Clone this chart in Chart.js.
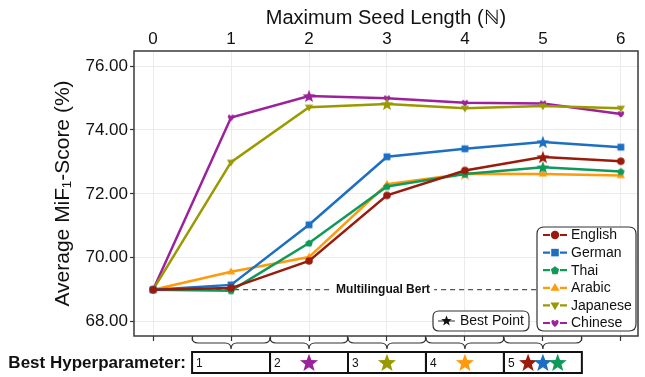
<!DOCTYPE html>
<html><head><meta charset="utf-8">
<script src="https://cdn.jsdelivr.net/npm/chart.js@4"></script>
<style>html,body{margin:0;padding:0;background:#fff;}</style>
</head><body>
<canvas id="c" width="645" height="377" style="width:645px;height:377px;display:block"></canvas>
<script>
// ---- data ----
const seedLengths = [0, 1, 2, 3, 4, 5, 6];
const xTickLabels = ['0', '1', '2', '3', '4', '5', '6'];
const yTickValues = [68, 70, 72, 74, 76];
const seriesNames = ['English', 'German', 'Thai', 'Arabic', 'Japanese', 'Chinese'];
const english  = [69.00, 69.05, 69.90, 71.95, 72.73, 73.15, 73.02];
const german   = [69.00, 69.15, 71.03, 73.16, 73.41, 73.62, 73.46];
const thai     = [69.00, 68.97, 70.46, 72.23, 72.62, 72.83, 72.70];
const arabic   = [69.00, 69.56, 70.02, 72.30, 72.63, 72.62, 72.57];
const japanese = [69.00, 72.99, 74.71, 74.81, 74.68, 74.75, 74.68];
const chinese  = [69.00, 74.39, 75.06, 74.99, 74.85, 74.83, 74.50];
const bestIndex = [5, 5, 5, 4, 3, 2];
const baselineValue = 69.0;
const baselineLabel = 'Multilingual Bert';
const hyperBoxes = [1, 2, 3, 4, 5];

const seriesValues = [english, german, thai, arabic, japanese, chinese];
const colors = ['#9a1b0c', '#1c6fc2', '#0f9a5c', '#ff9a0a', '#9a9a00', '#9b229b'];
const shapes = ['circle', 'square', 'pentagon', 'triangle', 'triangleDown', 'heart'];
const FONT = "'Liberation Sans', Arial, sans-serif";

function shapePath(ctx, shape, cx, cy, r) {
  ctx.beginPath();
  if (shape === 'circle') {
    ctx.arc(cx, cy, r, 0, Math.PI * 2);
  } else if (shape === 'square') {
    const s = r * 0.9;
    ctx.rect(cx - s, cy - s, 2 * s, 2 * s);
  } else if (shape === 'pentagon') {
    for (let i = 0; i < 5; i++) {
      const a = -Math.PI / 2 + i * 2 * Math.PI / 5;
      const px = cx + r * 1.05 * Math.cos(a), py = cy + r * 1.05 * Math.sin(a) + r * 0.1;
      i ? ctx.lineTo(px, py) : ctx.moveTo(px, py);
    }
    ctx.closePath();
  } else if (shape === 'triangle' || shape === 'triangleDown') {
    const d = shape === 'triangle' ? 1 : -1;
    const R = r * 1.15;
    ctx.moveTo(cx, cy - d * R);
    ctx.lineTo(cx + R * 0.95, cy + d * R * 0.6);
    ctx.lineTo(cx - R * 0.95, cy + d * R * 0.6);
    ctx.closePath();
  } else if (shape === 'heart') {
    ctx.moveTo(cx, cy + r * 0.95);
    ctx.bezierCurveTo(cx - r * 1.5, cy - r * 0.1, cx - r * 0.7, cy - r * 1.3, cx, cy - r * 0.35);
    ctx.bezierCurveTo(cx + r * 0.7, cy - r * 1.3, cx + r * 1.5, cy - r * 0.1, cx, cy + r * 0.95);
    ctx.closePath();
  } else if (shape === 'star') {
    for (let i = 0; i < 10; i++) {
      const a = -Math.PI / 2 + i * Math.PI / 5;
      const rr = i % 2 ? r * 0.42 : r;
      const px = cx + rr * Math.cos(a), py = cy + rr * Math.sin(a) + r * 0.08;
      i ? ctx.lineTo(px, py) : ctx.moveTo(px, py);
    }
    ctx.closePath();
  }
}
function drawShape(ctx, shape, cx, cy, r, color) {
  ctx.save();
  shapePath(ctx, shape, cx, cy, r);
  ctx.fillStyle = color;
  ctx.fill();
  ctx.restore();
}
function markerCanvas(shape, color, r) {
  const size = Math.ceil(2 * r + 6);
  const c = document.createElement('canvas');
  c.width = size; c.height = size;
  drawShape(c.getContext('2d'), shape, size / 2, size / 2, r, color);
  return c;
}

const plotMarkers = shapes.map((s, i) => markerCanvas(s, colors[i], 3.8));
const plotStars = colors.map(c => markerCanvas('star', c, 6.8));

const datasets = seriesValues.map((vals, si) => ({
  label: seriesNames[si],
  data: seedLengths.map((x, i) => ({ x: x, y: vals[i] })),
  borderColor: colors[si],
  backgroundColor: colors[si],
  borderWidth: 2.5,
  pointBorderWidth: 0,
  pointStyle: ctx => ctx.dataIndex === bestIndex[si] ? plotStars[si] : plotMarkers[si],
  pointRadius: 4,
  tension: 0
}));
datasets.push({
  label: baselineLabel,
  data: [{ x: seedLengths[0], y: baselineValue }, { x: seedLengths[seedLengths.length - 1], y: baselineValue }],
  borderColor: '#555',
  borderWidth: 1.3,
  borderDash: [5, 4],
  pointRadius: 0
});

function roundRect(ctx, x, y, w, h, r) {
  ctx.beginPath();
  ctx.moveTo(x + r, y);
  ctx.lineTo(x + w - r, y); ctx.quadraticCurveTo(x + w, y, x + w, y + r);
  ctx.lineTo(x + w, y + h - r); ctx.quadraticCurveTo(x + w, y + h, x + w - r, y + h);
  ctx.lineTo(x + r, y + h); ctx.quadraticCurveTo(x, y + h, x, y + h - r);
  ctx.lineTo(x, y + r); ctx.quadraticCurveTo(x, y, x + r, y);
  ctx.closePath();
}

const decor = {
  id: 'decor',
  beforeDatasetsDraw(chart) {
    const { ctx, chartArea: a } = chart;
    ctx.save();
    ctx.strokeStyle = '#3a3a3a';
    ctx.lineWidth = 1.5;
    ctx.strokeRect(a.left, a.top, a.right - a.left, a.bottom - a.top);
    ctx.restore();
  },
  afterDatasetsDraw(chart) {
    const { ctx } = chart;
    const xs = chart.scales.x, ys = chart.scales.y;
    ctx.save();
    ctx.font = 'bold 12px ' + FONT;
    const tx = xs.getPixelForValue(2.95), ty = ys.getPixelForValue(baselineValue);
    const w = ctx.measureText(baselineLabel).width;
    ctx.fillStyle = '#fff';
    ctx.fillRect(tx - w / 2 - 4, ty - 7, w + 8, 14);
    ctx.fillStyle = '#111';
    ctx.textAlign = 'center'; ctx.textBaseline = 'middle';
    ctx.fillText(baselineLabel, tx, ty + 0.5);
    ctx.restore();
  },
  afterDraw(chart) {
    const { ctx, chartArea: a } = chart;
    const xs = chart.scales.x;
    ctx.save();
    // legend box
    const lx = 537, ly = 227, lw = 99, lh = 104;
    roundRect(ctx, lx, ly, lw, lh, 7);
    ctx.fillStyle = '#fff'; ctx.fill();
    ctx.strokeStyle = '#333'; ctx.lineWidth = 1.2; ctx.stroke();
    ctx.font = '14px ' + FONT;
    ctx.textBaseline = 'middle'; ctx.textAlign = 'left';
    seriesNames.forEach((name, i) => {
      const y = ly + 8 + i * 17.6;
      ctx.strokeStyle = colors[i]; ctx.lineWidth = 2.2;
      ctx.beginPath(); ctx.moveTo(543, y); ctx.lineTo(550, y); ctx.moveTo(560, y); ctx.lineTo(567, y); ctx.stroke();
      drawShape(ctx, shapes[i], 555, y, 4.2, colors[i]);
      ctx.fillStyle = '#111';
      ctx.fillText(name, 571, y + 0.5);
    });
    // best point box
    roundRect(ctx, 433, 311, 96, 20, 6);
    ctx.fillStyle = '#fff'; ctx.fill();
    ctx.strokeStyle = '#333'; ctx.lineWidth = 1.2; ctx.stroke();
    ctx.strokeStyle = '#777'; ctx.lineWidth = 1.5;
    ctx.beginPath(); ctx.moveTo(438, 321); ctx.lineTo(455, 321); ctx.stroke();
    drawShape(ctx, 'star', 446.5, 320.5, 5.5, '#111');
    ctx.fillStyle = '#111'; ctx.font = '14px ' + FONT;
    ctx.fillText('Best Point', 460, 321.5);

    // braces
    const topY = a.bottom + 1.5, midY = a.bottom + 7, tipY = a.bottom + 13;
    ctx.strokeStyle = '#333'; ctx.lineWidth = 1.2;
    hyperBoxes.forEach(h => {
      const L = xs.getPixelForValue(h - 0.5), R = xs.getPixelForValue(h + 0.5), C = xs.getPixelForValue(h);
      const r = 6;
      ctx.beginPath();
      ctx.moveTo(L, topY);
      ctx.quadraticCurveTo(L, midY, L + r, midY);
      ctx.lineTo(C - r, midY);
      ctx.quadraticCurveTo(C, midY, C, tipY);
      ctx.quadraticCurveTo(C, midY, C + r, midY);
      ctx.lineTo(R - r, midY);
      ctx.quadraticCurveTo(R, midY, R, topY);
      ctx.stroke();
    });
    // boxes
    const by = 352, bh = 21;
    ctx.strokeStyle = '#111'; ctx.lineWidth = 2;
    ctx.font = '12px ' + FONT;
    hyperBoxes.forEach(h => {
      const L = xs.getPixelForValue(h - 0.5), R = xs.getPixelForValue(h + 0.5);
      ctx.strokeRect(L, by, R - L, bh);
      ctx.fillStyle = '#111';
      ctx.textAlign = 'left';
      ctx.fillText(String(h), L + 4, by + bh / 2 + 1);
      const who = [];
      bestIndex.forEach((b, si) => { if (b === h) who.push(si); });
      const n = who.length;
      who.forEach((si, k) => {
        const off = (k - (n - 1) / 2) * 0.19;
        drawShape(ctx, 'star', xs.getPixelForValue(h + off), by + bh / 2, 9.5, colors[si]);
      });
    });
    ctx.fillStyle = '#111';
    ctx.font = 'bold 17px ' + FONT;
    ctx.textAlign = 'right';
    ctx.fillText('Best Hyperparameter:', 186, by + bh / 2 + 1);
    ctx.restore();
  }
};

const xMin = -0.245, xMax = 6.22;
new Chart(document.getElementById('c'), {
  type: 'line',
  data: { datasets: datasets },
  plugins: [decor],
  options: {
    responsive: false,
    animation: false,
    devicePixelRatio: 1,
    layout: { padding: { left: 0, right: 7, top: 0, bottom: 0 } },
    plugins: { legend: { display: false }, tooltip: { enabled: false } },
    scales: {
      x: {
        type: 'linear', position: 'top', min: xMin, max: xMax,
        afterBuildTicks: s => { s.ticks = seedLengths.map(v => ({ value: v })); },
        afterFit: s => { s.height = 51; },
        ticks: { callback: v => xTickLabels[seedLengths.indexOf(v)], font: { family: FONT, size: 17 }, color: '#111', padding: 1, maxRotation: 0 },
        grid: { color: '#ebebeb', lineWidth: 1, drawTicks: false },
        border: { display: false },
        title: { display: true, text: 'Maximum Seed Length (ℕ)', font: { family: FONT, size: 20 }, color: '#111', padding: { top: 6, bottom: 0 } }
      },
      x2: {
        type: 'linear', position: 'bottom', min: xMin, max: xMax,
        afterBuildTicks: s => { const t = []; seedLengths.forEach(v => { t.push({ value: v }); if (v < 6) t.push({ value: v + 0.5 }); }); s.ticks = t; },
        afterFit: s => { s.height = 41; },
        ticks: { display: false },
        grid: { drawOnChartArea: false, tickLength: 5, tickColor: '#333', tickWidth: 1.2, color: '#333' },
        border: { display: false }
      },
      y: {
        type: 'linear', position: 'left', min: 67.55, max: 76.47,
        afterBuildTicks: s => { s.ticks = yTickValues.map(v => ({ value: v })); },
        afterFit: s => { s.width = 134; },
        ticks: { callback: v => v.toFixed(2), font: { family: FONT, size: 17 }, color: '#111', padding: 2 },
        grid: { color: '#ebebeb', lineWidth: 1, tickLength: 4, tickColor: '#333', tickWidth: 1.2 },
        border: { display: false },
        title: { display: true, text: 'Average MiF₁-Score (%)', font: { family: FONT, size: 21 }, color: '#111', padding: { top: 51, bottom: 0 } }
      }
    }
  }
});
</script>
</body></html>
